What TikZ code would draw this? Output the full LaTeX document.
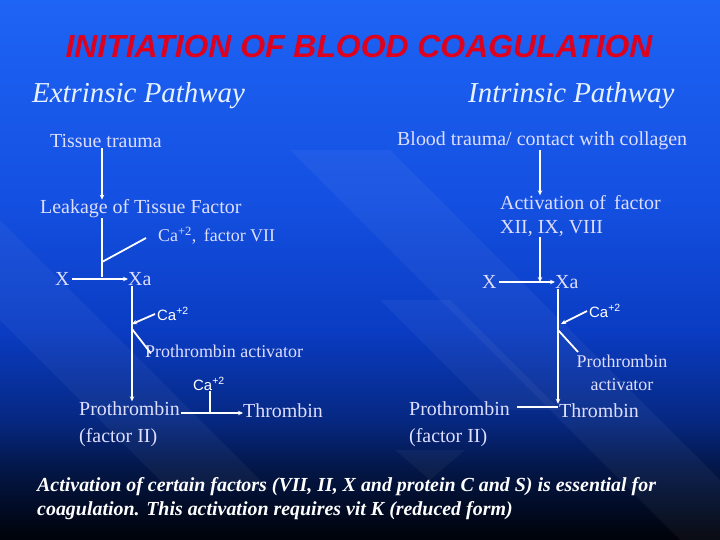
\documentclass[tikz,border=0pt]{standalone}
\usepackage{fontspec}
\setmainfont{Liberation Serif}
\newfontfamily\arialfont{Liberation Sans}
\usetikzlibrary{arrows.meta,calc}
\definecolor{bgA}{RGB}{30,100,245}
\definecolor{bgB}{RGB}{20,80,225}
\definecolor{bgC}{RGB}{10,60,195}
\definecolor{bgD}{RGB}{6,40,130}
\definecolor{bgE}{RGB}{3,22,70}
\definecolor{bgF}{RGB}{0,2,8}
\definecolor{txtlav}{RGB}{222,222,255}
\definecolor{hdtxt}{RGB}{230,242,255}
\definecolor{ttlred}{RGB}{222,0,28}
% slide background, path is mapped onto 25bp..75bp
\pgfdeclareverticalshading{slidebg}{100bp}{color(0bp)=(bgF); color(25bp)=(bgF); color(31.5bp)=(bgE); color(36.1bp)=(bgD); color(44.4bp)=(bgC); color(56.5bp)=(bgB); color(75bp)=(bgA); color(100bp)=(bgA)}
\tikzset{
	lbl/.style={text=txtlav,inner sep=0pt,anchor=west,font=\fontsize{20}{24}\selectfont},
	smlbl/.style={lbl,font=\fontsize{18}{23}\selectfont},
	calbl/.style={text=white,inner sep=0pt,anchor=west,font=\arialfont\fontsize{15}{18}\selectfont},
	hdlbl/.style={text=hdtxt,inner sep=0pt,anchor=west,font=\itshape\fontsize{29}{32}\selectfont},
	ln/.style={draw=white,line width=1.8pt},
	arr/.style={ln,-{Stealth[length=5pt,width=4.5pt]}},
	band/.style={fill=white,fill opacity=0.045,draw=none}
}
\begin{document}
\begin{tikzpicture}[x=1bp,y=-1bp]
	\useasboundingbox (0,0) rectangle (720,540);
	% background
	\shade[shading=slidebg] (0,0) rectangle (720,540);
	\begin{scope}
		\clip (0,0) rectangle (720,540);
		\path[band] (290,150) -- (390,150) -- (720,480) -- (720,580) -- cycle;
		\path[band] (0,220) -- (0,320) -- (170,490) -- (270,490) -- cycle;
		\path[band] (380,300) -- (450,300) -- (560,410) -- (490,410) -- cycle;
		\path[band] (395,450) -- (465,450) -- (430,480) -- cycle;
	\end{scope}

	% title
	\node[text=ttlred,font=\arialfont\bfseries\itshape\fontsize{32}{36}\selectfont] (title) at (359,47) {INITIATION OF BLOOD COAGULATION};
	\node[hdlbl] (ext) at (32,96) {Extrinsic Pathway};
	\node[hdlbl] (int) at (468,96) {Intrinsic Pathway};

	% extrinsic pathway
	\node[lbl] (tt) at (50,141) {Tissue trauma};
	\node[lbl] (ltf) at (40,209) {Leakage of Tissue Factor};
	\node[smlbl] (caf) at (158,236) {Ca\textsuperscript{+2},\, factor VII};
	\node[lbl] (xl) at (55,279) {X};
	\node[lbl] (xal) at (128,279) {Xa};
	\node[calbl] (cal) at (157,314) {Ca\textsuperscript{+2}};
	\node[smlbl] (pal) at (145,351) {Prothrombin activator};
	\node[calbl] (cab) at (193,384) {Ca\textsuperscript{+2}};
	\node[lbl,align=left,font=\fontsize{20}{27}\selectfont] (prl) at (79,424) {Prothrombin\\(factor II)};
	\node[lbl] (thl) at (243,411) {Thrombin};
	\coordinate (jxl) at (102,277);
	\coordinate (jcl) at (102,262);
	\coordinate (jal) at (132,324);
	\coordinate (jbl) at (132,329);
	\coordinate (hl) at (181,413);
	\coordinate (jhl) at (210,413);
	\draw[arr] (tt.south -| jxl) -- (ltf.north -| jxl);
	\draw[ln] (ltf.south -| jxl) -- (jxl);
	\draw[ln] ([xshift=-12pt,yshift=-2pt]caf.west) -- (jcl);
	\draw[arr] (xl.east) ++(2,0) -- (xal.west);
	\draw[arr] (xal.south -| jal) -- (prl.north -| jal);
	\draw[arr] ([xshift=-2pt]cal.west) -- (jal);
	\draw[ln] (jbl) -- ([xshift=6pt,yshift=-9pt]pal.north west);
	\draw[arr] (hl) -- (thl.west |- hl);
	\draw[ln] (cab.south -| jhl) -- (jhl);

	% intrinsic pathway
	\node[lbl] (bt) at (397,141) {Blood trauma/ contact with collagen};
	\node[lbl,align=left] (act) at (500,216) {Activation of\, factor\\XII, IX, VIII};
	\node[lbl] (xr) at (482,282) {X};
	\node[lbl] (xar) at (555,282) {Xa};
	\node[calbl] (car) at (589,311) {Ca\textsuperscript{+2}};
	\node[smlbl,anchor=center,align=center] (par) at (622,373) {Prothrombin\\activator};
	\node[lbl,align=left,font=\fontsize{20}{27}\selectfont] (prr) at (409,424) {Prothrombin\\(factor II)};
	\node[lbl] (thr) at (559,411) {Thrombin};
	\coordinate (jxr) at (540,282);
	\coordinate (jar) at (561,324);
	\coordinate (jbr) at (558,330);
	\coordinate (pe) at (578,352);
	\coordinate (hr) at (517,407);
	\coordinate (vr) at (558,300);
	\draw[arr] (bt.south -| jxr) -- (act.north -| jxr);
	\draw[arr] (act.south -| jxr) -- (jxr);
	\draw[arr] (xr.east) ++(2,0) -- (xar.west);
	\draw[arr] (xar.south -| vr) -- (thr.north -| vr);
	\draw[arr] ([xshift=-2pt]car.west) -- (jar);
	\draw[ln] (jbr) -- (pe);
	\draw[ln] (hr) -- (hr -| vr);

	% note
	\node[text=white,inner sep=0pt,anchor=north west,align=left,font=\bfseries\itshape\fontsize{20}{24}\selectfont] (note) at (37,477) {Activation of certain factors (VII, II, X and protein C and S) is essential for\\coagulation. This activation requires vit K (reduced form)};
\end{tikzpicture}
\end{document}
